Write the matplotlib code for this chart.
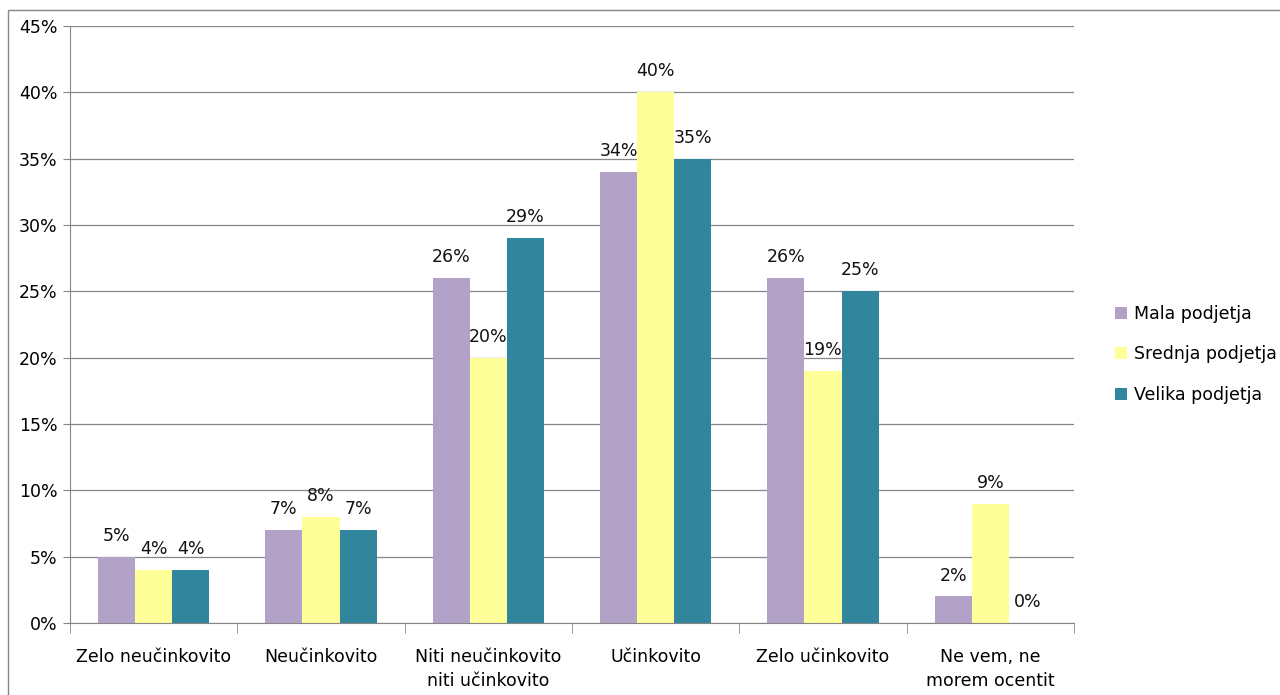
import matplotlib
matplotlib.use("Agg")
import matplotlib.pyplot as plt
from matplotlib.patches import Rectangle
from matplotlib.ticker import MultipleLocator, FuncFormatter
import numpy as np

categories = [
    "Zelo neučinkovito",
    "Neučinkovito",
    "Niti neučinkovito\nniti učinkovito",
    "Učinkovito",
    "Zelo učinkovito",
    "Ne vem, ne\nmorem ocentit",
]
series_names = ["Mala podjetja", "Srednja podjetja", "Velika podjetja"]
mala = [5, 7, 26, 34, 26, 2]
srednja = [4, 8, 20, 40, 19, 9]
velika = [4, 7, 29, 35, 25, 0]
colors = ["#B3A2C7", "#FFFF99", "#31859C"]

FS = 12.5
plt.rcParams["font.family"] = ["DejaVu Sans"]
fig = plt.figure(figsize=(12.8, 6.95), dpi=100)
ax = fig.add_axes([70 / 1280, 1 - 623 / 695, (1074 - 70) / 1280, (623 - 26) / 695])

# outer chart frame
fig.patches.append(Rectangle((8 / 1280, -0.05), 1.2, 1 - 10 / 695 + 0.05,
                             transform=fig.transFigure, fill=False,
                             edgecolor="#868686", linewidth=1.0))

x = np.arange(len(categories))
width = 0.222
for i, (vals, name, col) in enumerate(zip([mala, srednja, velika], series_names, colors)):
    pos = x + (i - 1) * width
    bars = ax.bar(pos, vals, width=width, color=col, label=name, zorder=2)
    for b, v in zip(bars, vals):
        ax.text(b.get_x() + b.get_width() / 2, v + 0.9, f"{v}%",
                ha="center", va="bottom", fontsize=FS, color="#111111")

ax.set_ylim(0, 45)
ax.set_xlim(-0.5, len(categories) - 0.5)
ax.yaxis.set_major_locator(MultipleLocator(5))
ax.yaxis.set_major_formatter(FuncFormatter(lambda v, _: f"{v:.0f}%"))
ax.grid(axis="y", color="#868686", linewidth=0.9, zorder=0)
ax.set_axisbelow(True)

ax.set_xticks(x)
ax.set_xticklabels(categories, fontsize=FS, linespacing=1.45)
ax.set_xticks(np.arange(-0.5, len(categories)), minor=True)
ax.tick_params(axis="x", which="major", length=0, pad=18)
ax.tick_params(axis="x", which="minor", length=7, color="#868686", direction="out")
ax.tick_params(axis="y", length=5, color="#868686", labelsize=FS, pad=4)

for s in ("top", "right"):
    ax.spines[s].set_visible(False)
for s in ("left", "bottom"):
    ax.spines[s].set_color("#868686")

leg = ax.legend(loc="center left", bbox_to_anchor=(1.025, 0.45), frameon=False,
                fontsize=FS, handlelength=0.7, handleheight=0.7,
                handletextpad=0.4, labelspacing=1.3)

fig.savefig("out.png", dpi=100)
